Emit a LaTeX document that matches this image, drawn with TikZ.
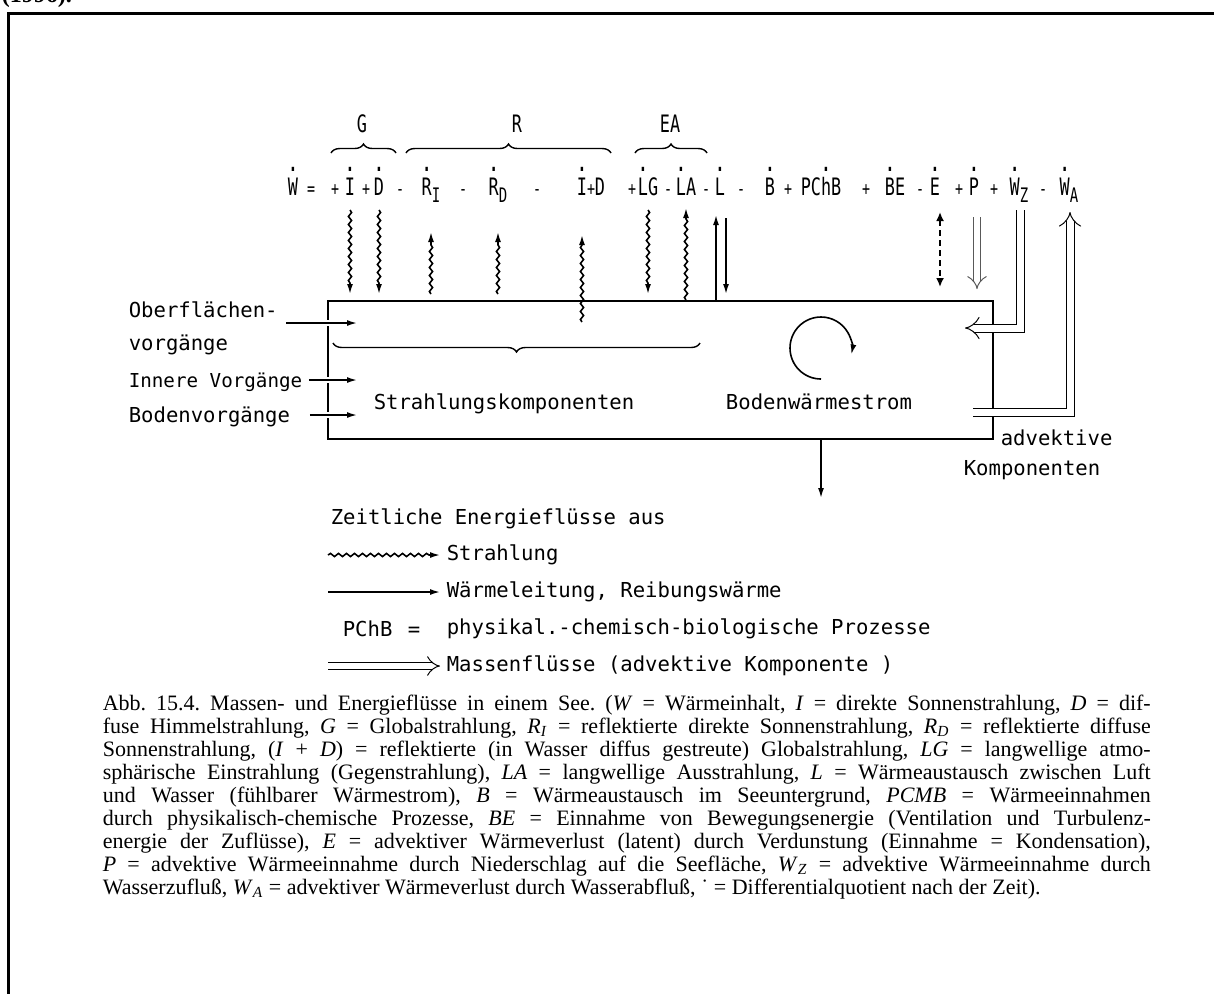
\documentclass[tikz,border=0pt]{standalone}
\usepackage{fontspec}
\setmainfont{Liberation Serif}
\setmonofont{DejaVu Sans Mono}
\newfontfamily\eqfont{DejaVu Sans Mono}[FakeStretch=0.7]
\usetikzlibrary{arrows.meta,positioning,decorations.pathmorphing,decorations.pathreplacing,calc}

% punto de derivada temporal sobre un simbolo
\newcommand{\dt}[1]{\ooalign{#1\cr\hidewidth\raisebox{0.98em}{\fontsize{14}{14}\selectfont.}\hidewidth\cr}}
\newcommand{\lsub}[1]{\raisebox{-0.6ex}{\fontsize{10}{10}\selectfont #1}}
\newcommand{\vi}[1]{\textit{#1}}

\tikzset{
  sym/.style={anchor=base, inner sep=0pt, font=\eqfont\fontsize{12}{12}\selectfont},
  opr/.style={anchor=base, inner sep=0pt, font=\eqfont\fontsize{9.5}{12}\selectfont},
  txt/.style={inner sep=0pt},
  rad/.style={decorate, decoration={snake, amplitude=0.8pt, segment length=4pt, post length=5pt},
    -{Latex[length=5pt,width=3pt]}},
  heat/.style={-{Latex[length=5pt,width=3pt]}},
  mass/.style={double, double distance=3.5pt, line width=0.5pt, -{Implies}},
  evap/.style={dash pattern=on 3pt off 2pt, line width=1.2pt,
    {Latex[length=4.5pt,width=4pt]}-{Latex[length=4.5pt,width=4pt]}},
  brc/.style={decorate, decoration={brace, amplitude=4.5pt}, line width=0.7pt},
  gap/.style={preaction={draw=white, line width=3pt, arrows=-}},
}

\begin{document}
\begin{tikzpicture}[x=0.5pt, y=-0.5pt, line width=0.8pt, font=\ttfamily\fontsize{10.3}{12}\selectfont]
\useasboundingbox (0,0) rectangle (1214,993);
% marco de la pagina
\draw[line width=1.5pt] (8,1010) -- (8,13) -- (1230,13);
\node[txt, anchor=base west, font=\rmfamily\bfseries\fontsize{12}{12}\selectfont] (yr) at (1,2) {(1996).};

% ecuacion de balance
\foreach \x/\n/\t in {293/sW/\dt{W}, 350/sI/\dt{I}, 379/sD/\dt{D}, 431/sRI/{\dt{R}\lsub{I}},
    498/sRD/{\dt{R}\lsub{D}}, 582/sIi/\dt{I}, 600/sDd/D, 648/sLG/{\dt{L}G}, 686/sLA/{\dt{L}A},
    720/sL/\dt{L}, 770/sB/\dt{B}, 821/sPChB/{PC\dt{h}B}, 895/sBE/{\dt{B}E}, 935/sE/\dt{E},
    974/sP/\dt{P}, 1019/sWZ/{\dt{W}\lsub{Z}}, 1069/sWA/{\dt{W}\lsub{A}}}
  \node[sym] (\n) at (\x,195) {\t};
\foreach \x/\t [count=\k] in {311/=, 335/+, 366/+, 400/-, 463/-, 537/-, 591/+, 632/+, 668/-,
    706/-, 741/-, 788/+, 866/+, 920/-, 959/+, 994/+, 1043/-}
  \node[opr] (op\k) at (\x,195) {\t};

% grupos G, R, EA
\node[sym] (gG) at (362,132) {G};
\node[sym] (gR) at (517,132) {R};
\node[sym] (gEA) at (670,132) {EA};
\draw[brc] (331,153) -- (396,153);
\draw[brc] (406,153) -- (611,153);
\draw[brc] (635,153) -- (707,153);

% el lago
\node[draw, line width=1pt, minimum width=332.5pt, minimum height=69pt, inner sep=0pt] (lake) at (660.5,370) {};

% flujos de radiacion
\foreach \s in {sI,sD,sLG}
  \draw[rad] ([yshift=-7.5pt]\s.base) -- ($(\s.base |- lake.north)+(0,-6)$);
\foreach \s in {sRI,sRD}
  \draw[rad] ($(\s.base |- lake.north)+(0,-6)$) -- ([yshift=-18.5pt]\s.base);
\draw[rad] ($(sIi.base |- lake.north)+(0,22)$) -- ([yshift=-20pt]sIi.base);
\draw[rad] (sLA.base |- lake.north) -- ([yshift=-6.5pt]sLA.base);
% calor sensible
\draw[heat] ($(sL.base |- lake.north)+(-4,0)$) -- ($(sL.base)+(-4,20)$);
\draw[heat] ($(sL.base)+(6,23)$) -- ($(sL.base |- lake.north)+(6,-6)$);
% evaporacion, precipitacion, afluencia, salida
\draw[evap] ($(sE.base)+(5,17)$) -- ($(sE.base |- lake.north)+(5,-13)$);
\draw[mass, double distance=3pt, draw=black!65] ($(sP.base)+(3,22)$) -- ($(sP.base |- lake.north)+(3,-11)$);
\coordinate (wzin) at (965,328);
\coordinate (waout) at (973,412);
\draw[mass] ($(sWZ.base)+(1,15)$) |- (wzin);
\draw[mass] (waout) -| ($(sWA.base)+(1,17)$);

% interior
\draw[brc] (700,343) -- (333,343);
\coordinate (circ) at (821,348);
\draw[heat] (circ) ++(90:31) arc[start angle=90, end angle=372, radius=31];
\draw[heat] (circ |- lake.south) -- ++(0,58);
\node[txt, anchor=base] (tStrK) at (504,409) {Strahlungskomponenten};
\node[txt, anchor=base] (tBoden) at (819,409) {Bodenwärmestrom};
\node[txt, anchor=base west] (tAdv) at (1000,445) {advektive};
\node[txt, anchor=base west] (tKomp) at (963,475) {Komponenten};

% procesos del lado izquierdo
\node[txt, anchor=base west] (lOber) at (128,317) {Oberflächen-};
\node[txt, anchor=base west] (lOber2) at (128,350) {vorgänge};
\node[txt, anchor=base west, font=\ttfamily\fontsize{9.6}{12}\selectfont] (lInnere) at (128,387) {Innere Vorgänge};
\node[txt, anchor=base west] (lBoden) at (128,422) {Bodenvorgänge};
\draw[heat, gap] ($(lOber.base east)+(8,6)$) -- ($(lake.west |- lOber.base)+(30,6)$);
\draw[heat, gap] ($(lInnere.base east)+(6,-7)$) -- ($(lake.west |- lInnere.base)+(30,-7)$);
\draw[heat, gap] ($(lBoden.base east)+(19,-7)$) -- ($(lake.west |- lBoden.base)+(30,-7)$);

% leyenda
\node[txt, anchor=base west] (tZeit) at (330,524) {Zeitliche Energieflüsse aus};
\node[anchor=west, inner sep=3pt] (tStr) at (440,555) {Strahlung};
\node[anchor=west, inner sep=3pt] (tWL) at (440,592) {Wärmeleitung, Reibungswärme};
\node[txt, anchor=base west] (tPChB) at (342,636) {PChB};
\node[txt, anchor=base] (tEq) at (414,636) {=};
\node[anchor=west, inner sep=3pt] (tPhys) at (440,629) {physikal.-chemisch-biologische Prozesse};
\node[anchor=west, inner sep=3pt] (tMass) at (440,666) {Massenflüsse (advektive Komponente )};
\draw[rad] ([xshift=-56pt]tStr.west) -- (tStr.west);
\draw[heat] ([xshift=-56pt]tWL.west) -- (tWL.west);
\draw[mass, double distance=3pt] ([xshift=-56pt]tMass.west) -- (tMass.west);

% pie de figura
\node[anchor=north west, inner sep=0pt, text width=524pt, align=justify,
  font=\rmfamily\fontsize{11}{11.5}\selectfont\frenchspacing] (capt) at (102,694) {%
Abb. 15.4. Massen- und Energieflüsse in einem See. (\vi{W} = Wärmeinhalt, \vi{I} = direkte Sonnenstrahlung, \vi{D} = dif-\linebreak
fuse Himmelstrahlung, \vi{G} = Globalstrahlung, \vi{R}\textsubscript{\vi{I}} = reflektierte direkte Sonnenstrahlung, \vi{R}\textsubscript{\vi{D}} = reflektierte diffuse\linebreak
Sonnenstrahlung, (\vi{I} + \vi{D}) = reflektierte (in Wasser diffus gestreute) Globalstrahlung, \vi{LG} = langwellige atmo-\linebreak
sphärische Einstrahlung (Gegenstrahlung), \vi{LA} = langwellige Ausstrahlung, \vi{L} = Wärmeaustausch zwischen Luft\linebreak
und Wasser (fühlbarer Wärmestrom), \vi{B} = Wärmeaustausch im Seeuntergrund, \vi{PCMB} = Wärmeeinnahmen\linebreak
durch physikalisch-chemische Prozesse, \vi{BE} = Einnahme von Bewegungsenergie (Ventilation und Turbulenz-\linebreak
energie der Zuflüsse), \vi{E} = advektiver Wärmeverlust (latent) durch Verdunstung (Einnahme = Kondensation),\linebreak
\vi{P} = advektive Wärmeeinnahme durch Niederschlag auf die Seefläche, \vi{W}\textsubscript{\vi{Z}} = advektive Wärmeeinnahme durch\linebreak
Wasserzufluß, \vi{W}\textsubscript{\vi{A}} = advektiver Wärmeverlust durch Wasserabfluß, ˙ = Differentialquotient nach der Zeit).};
\end{tikzpicture}
\end{document}
